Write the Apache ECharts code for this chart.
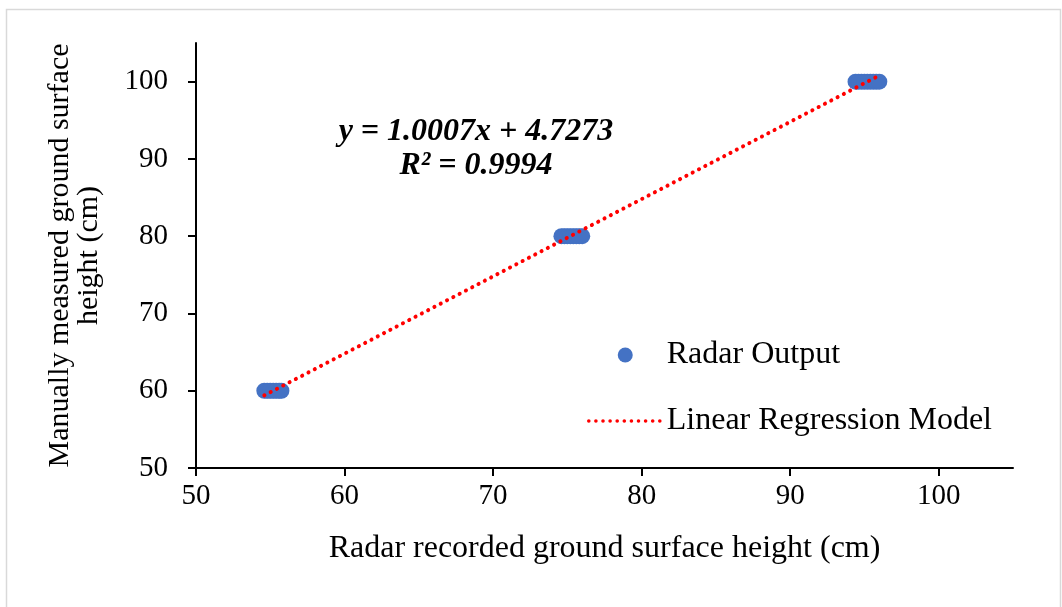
<!DOCTYPE html>
<html>
<head>
<meta charset="utf-8">
<script src="https://cdn.jsdelivr.net/npm/echarts@6/dist/echarts.min.js"></script>
<style>
  html, body { margin: 0; padding: 0; background: #fff; }
  #main { width: 1062px; height: 607px; }
</style>
</head>
<body>
<div id="main"></div>
<script>
// tick labels
const xTicks = [50, 60, 70, 80, 90, 100];
const yTicks = [50, 60, 70, 80, 90, 100];

// radar output points (x = radar, y = manual)
const radarX = [54.6, 54.8, 55.0, 55.2, 55.4, 55.6, 55.75,
                74.6, 74.8, 75.0, 75.2, 75.4, 75.6, 75.8, 76.0,
                94.4, 94.6, 94.8, 95.0, 95.2, 95.4, 95.6, 95.8, 96.0];
const manualY = [60, 60, 60, 60, 60, 60, 60,
                 80, 80, 80, 80, 80, 80, 80, 80,
                 100, 100, 100, 100, 100, 100, 100, 100, 100];

// regression line end points
const fitX = [54.6, 96.0];
const fitY = [59.4, 100.8];

const font = 'Liberation Serif';

const chart = echarts.init(document.getElementById('main'));

const option = {
  animation: false,
  backgroundColor: '#fff',
  textStyle: { fontFamily: font, color: '#000' },
  grid: { left: 196, right: 49, top: 43, bottom: 139 },
  legend: {
    orient: 'vertical',
    left: 587,
    top: 339,
    itemWidth: 73,
    itemHeight: 15,
    itemGap: 34,
    padding: 0,
    selectedMode: false,
    textStyle: { fontFamily: font, fontSize: 32, color: '#000' },
    data: [
      { name: 'Radar Output' },
      {
        name: 'Linear Regression Model',
        itemStyle: { color: 'rgba(0,0,0,0)', borderWidth: 0 },
        lineStyle: { color: '#ff0000', width: 3.5, type: [0.1, 7], cap: 'round' }
      }
    ]
  },
  xAxis: {
    type: 'value',
    min: 50,
    max: 105,
    interval: 10,
    name: 'Radar recorded ground surface height (cm)',
    nameLocation: 'middle',
    nameGap: 65,
    nameTextStyle: { fontFamily: font, fontSize: 32, color: '#000' },
    axisLine: { show: true, onZero: false, lineStyle: { color: '#000', width: 2 } },
    axisTick: { show: true, length: 8, lineStyle: { color: '#000', width: 2 }, customValues: xTicks },
    axisLabel: { fontFamily: font, fontSize: 29, color: '#000', margin: 14, customValues: xTicks },
    splitLine: { show: false }
  },
  yAxis: {
    type: 'value',
    min: 50,
    max: 105,
    interval: 10,
    name: 'Manually measured ground surface\nheight (cm)',
    nameLocation: 'middle',
    nameRotate: 90,
    nameGap: 92,
    nameTextStyle: { fontFamily: font, fontSize: 30, color: '#000', lineHeight: 29 },
    axisLine: { show: true, onZero: false, lineStyle: { color: '#000', width: 2 } },
    axisTick: { show: true, length: 8, lineStyle: { color: '#000', width: 2 }, customValues: yTicks },
    axisLabel: { fontFamily: font, fontSize: 29, color: '#000', margin: 28, customValues: yTicks },
    splitLine: { show: false }
  },
  graphic: [
    {
      type: 'rect',
      left: 4, top: 7,
      shape: { width: 1054, height: 620 },
      style: { fill: 'none', stroke: '#d9d9d9', lineWidth: 1.5 },
      silent: true, z: -1
    },
    {
      type: 'text',
      x: 476, y: 115,
      style: {
        text: 'y = 1.0007x + 4.7273\nR² = 0.9994',
        font: 'italic bold 32px "Liberation Serif"',
        fill: '#000',
        align: 'center',
        lineHeight: 34
      }
    }
  ],
  series: [
    {
      name: 'Radar Output',
      type: 'scatter',
      symbol: 'circle',
      symbolSize: 16,
      itemStyle: { color: '#4472C4', opacity: 1 },
      data: radarX.map((x, i) => [x, manualY[i]]),
      z: 2
    },
    {
      name: 'Linear Regression Model',
      type: 'line',
      symbol: 'none',
      itemStyle: { color: '#ff0000' },
      lineStyle: { color: '#ff0000', width: 4, type: [0.1, 7], cap: 'round' },
      data: fitX.map((x, i) => [x, fitY[i]]),
      z: 3
    }
  ]
};

chart.setOption(option);
</script>
</body>
</html>
